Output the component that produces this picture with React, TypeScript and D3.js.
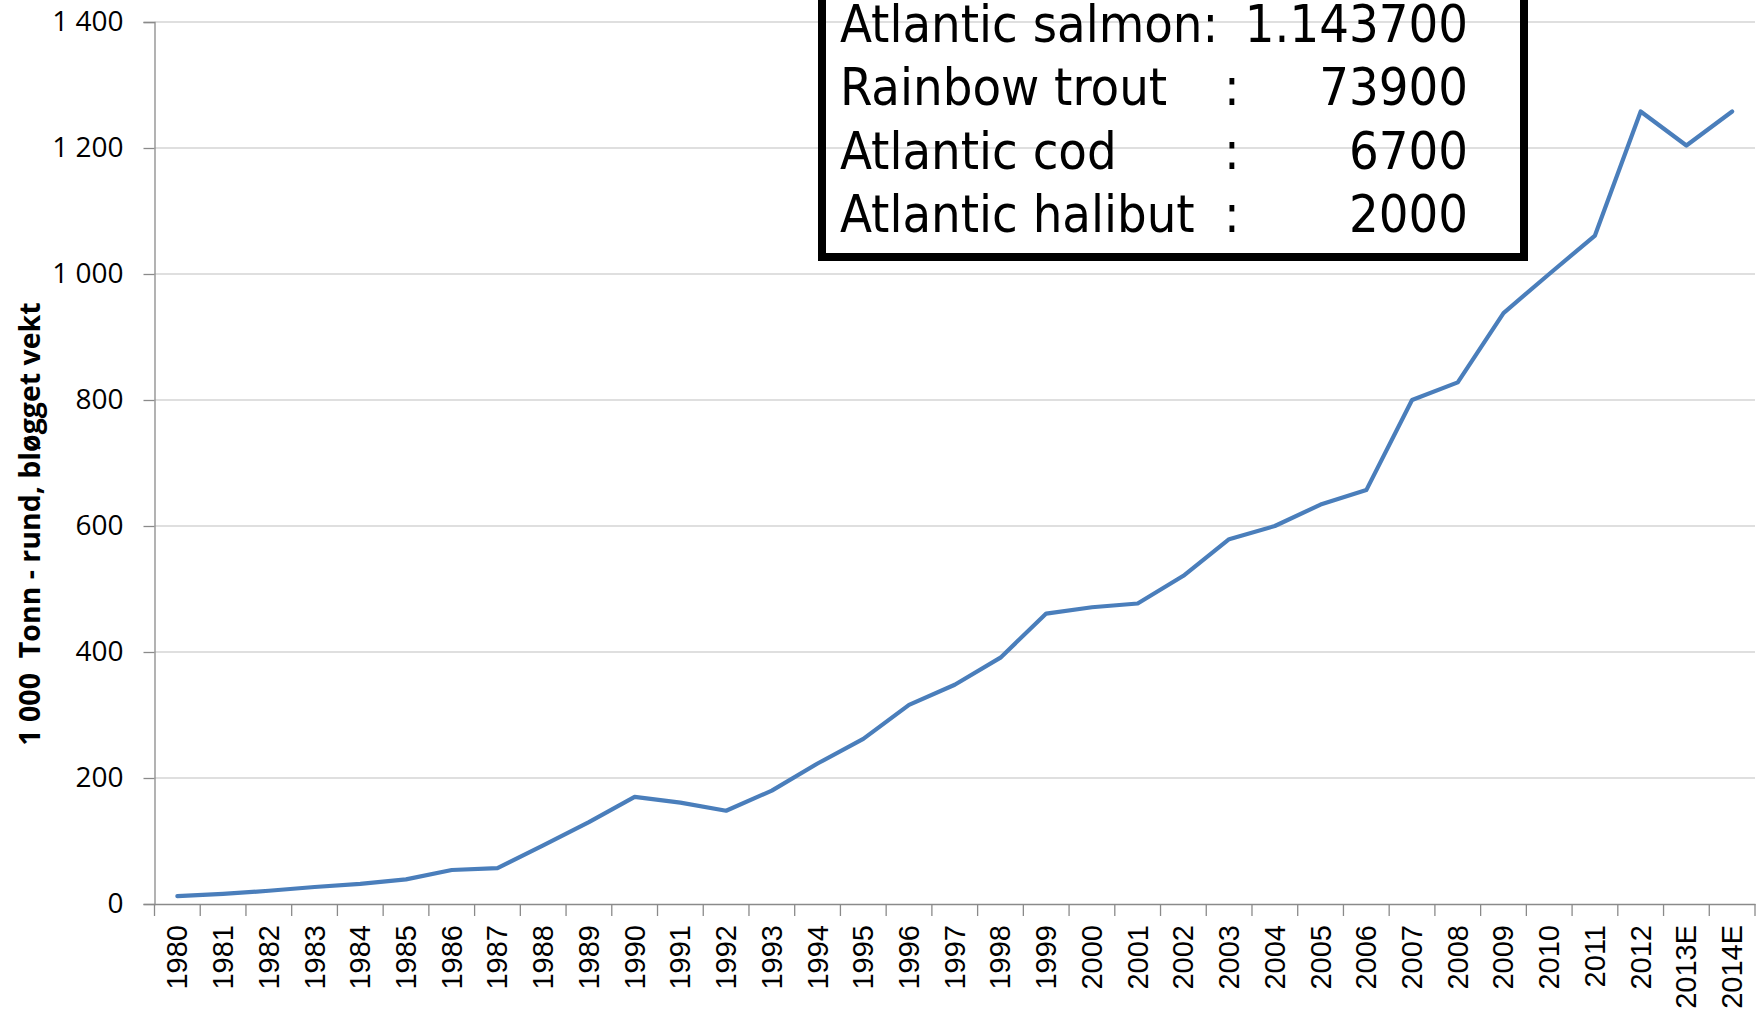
import * as d3 from 'd3';
import { useEffect, useRef } from 'react';

const years = [
  '1980', '1981', '1982', '1983', '1984', '1985', '1986', '1987', '1988', '1989',
  '1990', '1991', '1992', '1993', '1994', '1995', '1996', '1997', '1998', '1999',
  '2000', '2001', '2002', '2003', '2004', '2005', '2006', '2007', '2008', '2009',
  '2010', '2011', '2012', '2013E', '2014E'
];

// 1000 tonn
const production = [
  12.5, 16, 21, 27, 32, 39, 54, 57, 93, 130,
  170, 161, 148, 180, 223, 262, 316, 348, 391, 461,
  471, 477, 521, 579, 600, 634, 657, 800, 828, 938,
  1000, 1061, 1258, 1204, 1258
];

const yTicks = [0, 200, 400, 600, 800, 1000, 1200, 1400];

const boxSpecies = ['Atlantic salmon:', 'Rainbow trout', 'Atlantic cod', 'Atlantic halibut'];
const boxColons = ['', ':', ':', ':'];
const boxValues = ['1.143700', '73900', '6700', '2000'];

const fmt = (v: number) => d3.format(',')(v).replace(/,/g, ' ');

export default function App() {
  const ref = useRef<SVGSVGElement>(null);

  useEffect(() => {
    const svg = d3.select(ref.current);
    svg.selectAll('*').remove();

    const width = 1764;
    const height = 1009;
    const margin = { top: 22, right: 9, bottom: 105, left: 154.5 };

    const x = d3.scaleBand().domain(years).range([margin.left, width - margin.right]);
    const y = d3.scaleLinear().domain([0, 1400]).range([height - margin.bottom, margin.top]);

    // gridlines
    svg
      .append('g')
      .selectAll('line')
      .data(yTicks.filter((d) => d > 0))
      .join('line')
      .attr('x1', margin.left)
      .attr('x2', width - margin.right)
      .attr('y1', (d) => y(d))
      .attr('y2', (d) => y(d))
      .attr('stroke', '#d4d4d4')
      .attr('stroke-width', 1.3);

    // y axis
    const yAxis = svg
      .append('g')
      .attr('transform', `translate(${margin.left},0)`)
      .call(d3.axisLeft(y).tickValues(yTicks).tickSize(11).tickPadding(20).tickFormat((d) => fmt(+d)));
    yAxis.selectAll('line, path').attr('stroke', '#8a8a8a').attr('stroke-width', 1.3);
    yAxis
      .selectAll('text')
      .attr('fill', '#000')
      .style('font-family', '"Open Sans", sans-serif')
      .style('font-size', '28px');

    // x axis
    const xAxis = svg
      .append('g')
      .attr('transform', `translate(0,${y(0)})`)
      .call(d3.axisBottom(x).tickSize(0).tickFormat(() => ''));
    xAxis.select('.domain').attr('stroke', '#8a8a8a').attr('stroke-width', 1.3);
    xAxis
      .append('g')
      .selectAll('line')
      .data([...years.map((d) => x(d)!), width - margin.right])
      .join('line')
      .attr('x1', (d) => d)
      .attr('x2', (d) => d)
      .attr('y1', 0)
      .attr('y2', 12)
      .attr('stroke', '#8a8a8a')
      .attr('stroke-width', 1.3);
    xAxis
      .append('g')
      .selectAll('text')
      .data(years)
      .join('text')
      .attr('transform', (d) => `translate(${x(d)! + x.bandwidth() / 2},21) rotate(-90)`)
      .attr('text-anchor', 'end')
      .attr('dominant-baseline', 'central')
      .attr('fill', '#000')
      .style('font-family', '"Liberation Sans", Arial, sans-serif')
      .style('font-size', '29px')
      .text((d) => d);

    // y title
    svg
      .append('text')
      .attr('transform', `translate(29,524) rotate(-90)`)
      .attr('text-anchor', 'middle')
      .attr('dominant-baseline', 'central')
      .attr('xml:space', 'preserve')
      .style('font-family', '"Open Sans", sans-serif')
      .style('font-weight', 700)
      .style('font-size', '28.5px')
      .text('1 000  Tonn - rund, bløgget vekt');

    // line
    const line = d3
      .line<number>()
      .x((d, i) => x(years[i])! + x.bandwidth() / 2)
      .y((d) => y(d));
    svg
      .append('path')
      .datum(production)
      .attr('d', line)
      .attr('fill', 'none')
      .attr('stroke', '#4a7ebb')
      .attr('stroke-width', 4.2)
      .attr('stroke-linejoin', 'round')
      .attr('stroke-linecap', 'round');

    // annotation box
    svg
      .append('rect')
      .attr('x', 822)
      .attr('y', -20)
      .attr('width', 702)
      .attr('height', 277)
      .attr('fill', 'none')
      .attr('stroke', '#000')
      .attr('stroke-width', 8);

    const rows = svg
      .append('g')
      .style('font-family', '"DejaVu Sans Condensed", "Liberation Sans", sans-serif')
      .style('font-stretch', 'condensed')
      .style('font-size', '52px')
      .attr('fill', '#000');
    const rowY = (i: number) => 24 + i * 63.3;
    rows
      .selectAll('.sp')
      .data(boxSpecies)
      .join('text')
      .attr('class', 'sp')
      .attr('x', 840)
      .attr('y', (d, i) => rowY(i))
      .attr('dominant-baseline', 'central')
      .text((d) => d);
    rows
      .selectAll('.col')
      .data(boxColons)
      .join('text')
      .attr('class', 'col')
      .attr('x', 1232)
      .attr('y', (d, i) => rowY(i))
      .attr('text-anchor', 'middle')
      .attr('dominant-baseline', 'central')
      .text((d) => d);
    rows
      .selectAll('.val')
      .data(boxValues)
      .join('text')
      .attr('class', 'val')
      .attr('x', 1468)
      .attr('y', (d, i) => rowY(i))
      .attr('text-anchor', 'end')
      .attr('dominant-baseline', 'central')
      .text((d) => d);
  }, []);

  return (
    <svg
      ref={ref}
      width={1764}
      height={1009}
      style={{ position: 'absolute', left: 0, top: 0, background: '#fff' }}
    />
  );
}
